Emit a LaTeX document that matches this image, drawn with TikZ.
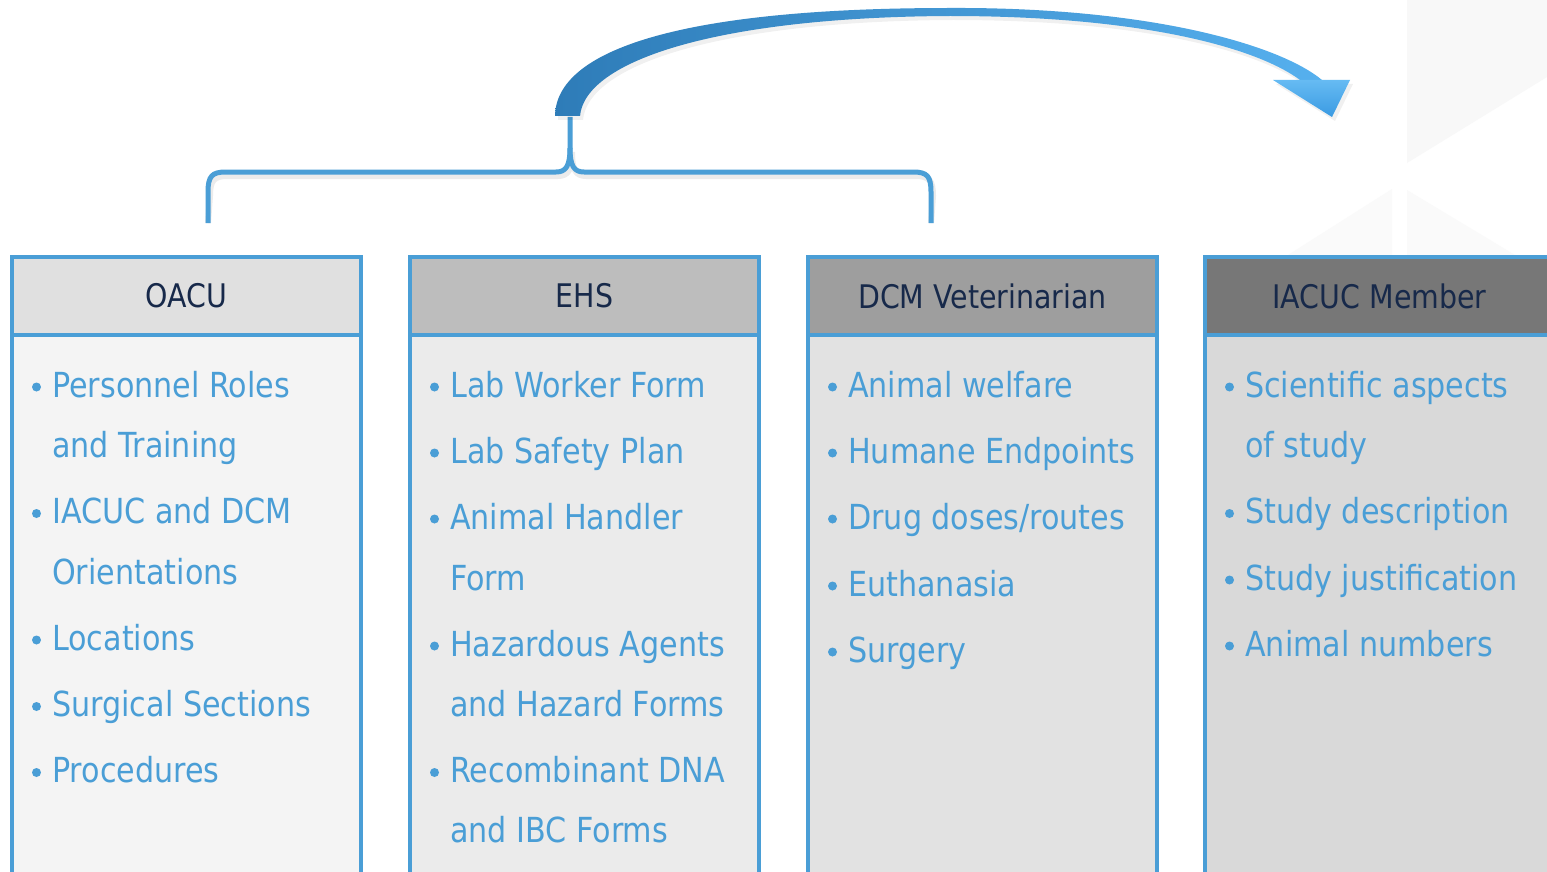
\documentclass[tikz,border=0pt]{standalone}
\usepackage{fontspec}
\setmainfont{DejaVu Sans}[FakeStretch=0.875]
\definecolor{bblue}{HTML}{4A9ED6}
\definecolor{navy}{HTML}{17294A}
\definecolor{txtblue}{HTML}{4A9ED6}
\definecolor{hd1}{HTML}{E0E0E0}
\definecolor{hd2}{HTML}{BDBDBD}
\definecolor{hd3}{HTML}{9E9E9E}
\definecolor{hd4}{HTML}{777777}
\definecolor{bd1}{HTML}{F4F4F4}
\definecolor{bd2}{HTML}{EBEBEB}
\definecolor{bd3}{HTML}{E2E2E2}
\definecolor{bd4}{HTML}{D9D9D9}
\definecolor{arrdark}{HTML}{2E7CB8}
\definecolor{arrlight}{HTML}{56B0EE}
\definecolor{headtop}{HTML}{66BBF3}
\definecolor{headbot}{HTML}{3A9AE2}
\definecolor{faint}{HTML}{F8F8F8}
\definecolor{fainter}{HTML}{FAFAFA}
\newcommand\hfont{\fontsize{32.5}{36}\selectfont}
\newcommand\bfont{\fontsize{34.5}{40}\selectfont}
\tikzset{
  hdr/.style={draw=bblue, line width=4.5pt, minimum width=349pt, minimum height=78pt,
    anchor=north west, inner sep=0pt, outer sep=0pt, font=\hfont, text=navy},
  bdy/.style={draw=bblue, line width=4.5pt, minimum width=349pt, minimum height=580pt,
    anchor=north west, inner sep=0pt, outer sep=0pt},
  itm/.style={anchor=base west, inner sep=0pt, font=\bfont, text=txtblue},
  bul/.style={circle, fill=txtblue, minimum size=9pt, inner sep=0pt},
  brace/.style={draw=bblue, line width=5pt, line join=round},
  shadow/.style={draw=black, opacity=0.08, line width=6pt},
}
\begin{document}
\begin{tikzpicture}[x=1pt,y=-1pt]
\useasboundingbox (0,0) rectangle (1547,872);
\clip (0,0) rectangle (1547,872);
\fill[white] (0,0) rectangle (1547,872);
% faint background geometry
\fill[faint] (1407,0) -- (1547,0) -- (1547,77) -- (1407,163) -- cycle;
\fill[fainter] (1288,255) -- (1392,189) -- (1392,255) -- cycle;
\fill[fainter] (1407,190) -- (1407,255) -- (1515,255) -- cycle;

% columns
\node[bdy, fill=bd1] (b1) at (12,335) {};
\node[hdr, fill=hd1] (h1) at (12,257) {OACU};
\node[bdy, fill=bd2] (b2) at (410,335) {};
\node[hdr, fill=hd2] (h2) at (410,257) {EHS};
\node[bdy, fill=bd3] (b3) at (808,335) {};
\node[hdr, fill=hd3] (h3) at (808,257) {DCM Veterinarian};
\node[bdy, fill=bd4] (b4) at (1205,335) {};
\node[hdr, fill=hd4] (h4) at (1205,257) {IACUC Member};

% column 1 items
\foreach \y/\b/\t [count=\k] in {397/1/Personnel Roles, 457.5/0/and Training,
  523.5/1/IACUC and DCM, 584/0/Orientations, 650/1/Locations,
  716.5/1/Surgical Sections, 782.5/1/Procedures}{
  \node[itm] (a\k) at (52,\y) {\t};
  \ifnum\b=1 \node[bul] (ab\k) at (36.5,\y-10) {};\fi
}
% column 2 items
\foreach \y/\b/\t [count=\k] in {397/1/Lab Worker Form, 463/1/Lab Safety Plan,
  529/1/Animal Handler, 590/0/Form, 656/1/Hazardous Agents,
  716.5/0/and Hazard Forms, 782.5/1/Recombinant DNA, 842/0/and IBC Forms}{
  \node[itm] (e\k) at (450,\y) {\t};
  \ifnum\b=1 \node[bul] (eb\k) at (434.5,\y-10) {};\fi
}
% column 3 items
\foreach \y/\b/\t [count=\k] in {397/1/Animal welfare, 463/1/Humane Endpoints,
  529/1/{Drug doses/routes}, 596/1/Euthanasia, 662/1/Surgery}{
  \node[itm] (d\k) at (848,\y) {\t};
  \ifnum\b=1 \node[bul] (db\k) at (832.5,\y-10) {};\fi
}
% column 4 items
\foreach \y/\b/\t [count=\k] in {397/1/Scientific aspects, 457.5/0/of study,
  523.5/1/Study description, 590/1/Study justification, 656/1/Animal numbers}{
  \node[itm] (m\k) at (1245,\y) {\t};
  \ifnum\b=1 \node[bul] (mb\k) at (1229.5,\y-10) {};\fi
}

% brace
\coordinate (bl) at (208,223);
\coordinate (br) at (931,223);
\coordinate (bt) at (570,117);
\begin{scope}[shift={(2,4)}]
\draw[shadow] (bl) -- (208,192) .. controls (208,176) and (212,172) .. (226,172) -- (556,172)
  .. controls (566,172) and (570,166) .. (570,148)
  .. controls (570,166) and (574,172) .. (584,172) -- (913,172)
  .. controls (927,172) and (931,176) .. (931,192) -- (br);
\end{scope}
\draw[brace] (bl) -- (208,192) .. controls (208,176) and (212,172) .. (226,172) -- (556,172)
  .. controls (566,172) and (570,166) .. (570,148) -- (bt);
\draw[brace] (570,148) .. controls (570,166) and (574,172) .. (584,172) -- (913,172)
  .. controls (927,172) and (931,176) .. (931,192) -- (br);

% curved arrow shadow
\fill[black, opacity=0.06] (558,120) .. controls (559,54) and (683,12) .. (953,12)
  .. controls (1153,11) and (1283,49) .. (1325,84) -- (1353,84) -- (1335,121) -- (1276,84)
  -- (1303,84) .. controls (1263,54) and (1153,20) .. (953,20)
  .. controls (723,21) and (588,64) .. (583,120) -- cycle;
% curved arrow shaft
\shade[left color=arrdark, right color=arrlight] (555,116) .. controls (556,50) and (680,8) .. (950,8)
  .. controls (1150,7) and (1280,45) .. (1322,80) -- (1300,80)
  .. controls (1260,50) and (1150,16) .. (950,16)
  .. controls (720,17) and (585,60) .. (580,116) -- cycle;
% arrow head
\shade[top color=headtop, bottom color=headbot] (1273,80) -- (1350,80) -- (1332,117) -- cycle;
\coordinate (atip) at (1332,117);
\end{tikzpicture}
\end{document}
